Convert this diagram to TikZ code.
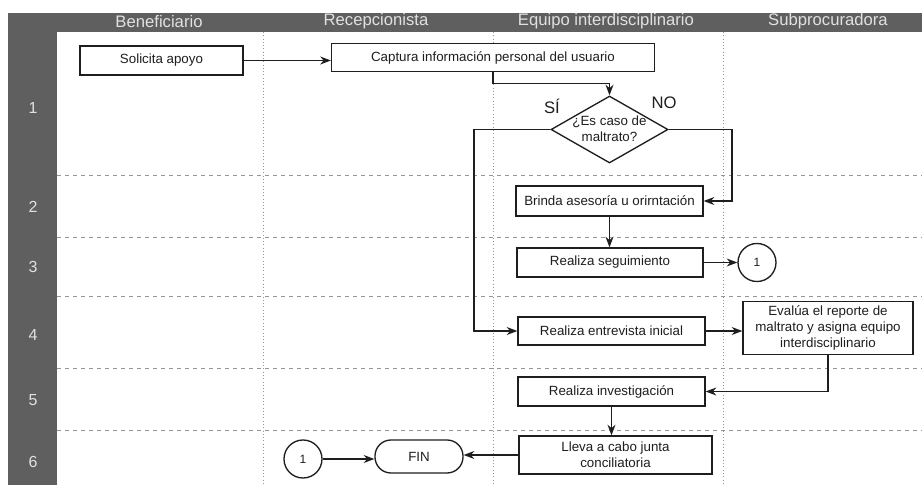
\documentclass[tikz,border=0pt]{standalone}
\usepackage{fontspec}
\setmainfont{Liberation Sans}
\usetikzlibrary{shapes.geometric,arrows.meta,calc}
\definecolor{hdrgray}{RGB}{95,95,95}
\definecolor{hdrtext}{RGB}{225,225,225}
\definecolor{linegray}{RGB}{150,150,150}
\definecolor{ink}{RGB}{30,30,30}
\begin{document}
\begin{tikzpicture}[x=0.75pt,y=-0.75pt,
  every node/.style={font=\fontsize{10}{12}\selectfont, text=ink},
  box/.style={draw=ink, line width=1pt, fill=white, rectangle, inner sep=0pt, align=center},
  conn/.style={draw=ink, line width=0.9pt, -{Stealth[length=8pt,width=6pt]}},
  lane/.style={draw=linegray, line width=0.45pt, dotted},
  rowline/.style={draw=linegray, line width=0.5pt, dashed},
  hdr/.style={font=\fontsize{12.5}{14}\selectfont, text=hdrtext},
  rownum/.style={font=\fontsize{12}{14}\selectfont, text=hdrtext},
  lbl/.style={font=\fontsize{12.5}{14}\selectfont, text=ink},
  conncircle/.style={draw=ink, line width=1pt, fill=white, circle, minimum size=28.5pt, inner sep=0pt, font=\fontsize{9}{11}\selectfont}
]
\useasboundingbox (0,0) rectangle (922,485);
\fill[white] (0,0) rectangle (922,485);

% lanes and rows
\foreach \x in {263,493,723} \draw[lane] (\x,32) -- (\x,485);
\foreach \y in {175,237,296,368,430} \draw[rowline] (57,\y) -- (922,\y);

% header and side bar
\fill[hdrgray] (8,13) rectangle (922,32);
\fill[hdrgray] (8,13) rectangle (57,485);

\node[hdr] (h1) at (159,21.5) {Beneficiario};
\node[hdr] (h2) at (376,21.5) {Recepcionista};
\node[hdr] (h3) at (606,21.5) {Equipo interdisciplinario};
\node[hdr] (h4) at (828,21.5) {Subprocuradora};

\node[rownum] (r1) at (33,108) {1};
\node[rownum] (r2) at (33,207) {2};
\node[rownum] (r3) at (33,267) {3};
\node[rownum] (r4) at (33,335) {4};
\node[rownum] (r5) at (33,400) {5};
\node[rownum] (r6) at (33,462) {6};

% nodes
\node[box, minimum width=122.25pt, minimum height=21.75pt] (sol) at (161.5,60.5) {Solicita apoyo};
\node[box, minimum width=242.25pt, minimum height=21pt] (cap) at (493,57.5) {Captura información personal del usuario};
\node[diamond, draw=ink, line width=1pt, fill=white, minimum width=87.75pt, minimum height=50.25pt, inner sep=0pt] (dec) at (609.5,129.5) {};
\node[align=center] (dect) at (609.5,128.5) {¿Es caso de\\maltrato?};
\node[lbl] (si) at (552,106) {SÍ};
\node[lbl] (no) at (664,103) {NO};
\node[box, minimum width=140.25pt, minimum height=22.5pt] (bri) at (609.5,201) {Brinda asesoría u orirntación};
\node[box, minimum width=139.5pt, minimum height=21.75pt] (seg) at (610,262.5) {Realiza seguimiento};
\node[conncircle] (c1) at (757,262.5) {1};
\node[box, minimum width=140.25pt, minimum height=21pt] (ent) at (611.5,331) {Realiza entrevista inicial};
\node[box, minimum width=127.5pt, minimum height=40pt] (eva) at (828,328) {Evalúa el reporte de\\maltrato y asigna equipo\\interdisciplinario};
\node[box, minimum width=140.25pt, minimum height=21.75pt] (inv) at (611.5,391.5) {Realiza investigación};
\node[box, minimum width=144.75pt, minimum height=28.5pt] (lle) at (615.5,455) {Lleva a cabo junta\\conciliatoria};
\node[box, minimum width=66pt, minimum height=24.75pt, rounded corners=12pt] (fin) at (419,456.5) {FIN};
\node[conncircle] (c2) at (303,459) {1};

\coordinate (sibend) at (474,129.5);
\coordinate (nobend) at (732,129.5);

% connectors
\draw[conn] (sol.east) -- (sol.east -| cap.west);
\draw[conn] (cap.south) -- ++(0,11) -| (dec.north);
\draw[conn] (dec.west) -- (dec.west -| sibend) |- (ent.west);
\draw[conn] (dec.east) -- (dec.east -| nobend) |- (bri.east);
\draw[conn] (bri.south) -- (bri.south |- seg.north);
\draw[conn] (seg.east) -- (seg.east -| c1.west);
\draw[conn] (ent.east) -- (ent.east -| eva.west);
\draw[conn] (eva.south) |- (inv.east);
\draw[conn] (inv.south) -- (inv.south |- lle.north);
\draw[conn] (lle.west) -- (lle.west -| fin.east);
\draw[conn] (c2.east) -- (c2.east -| fin.west);
\end{tikzpicture}
\end{document}
